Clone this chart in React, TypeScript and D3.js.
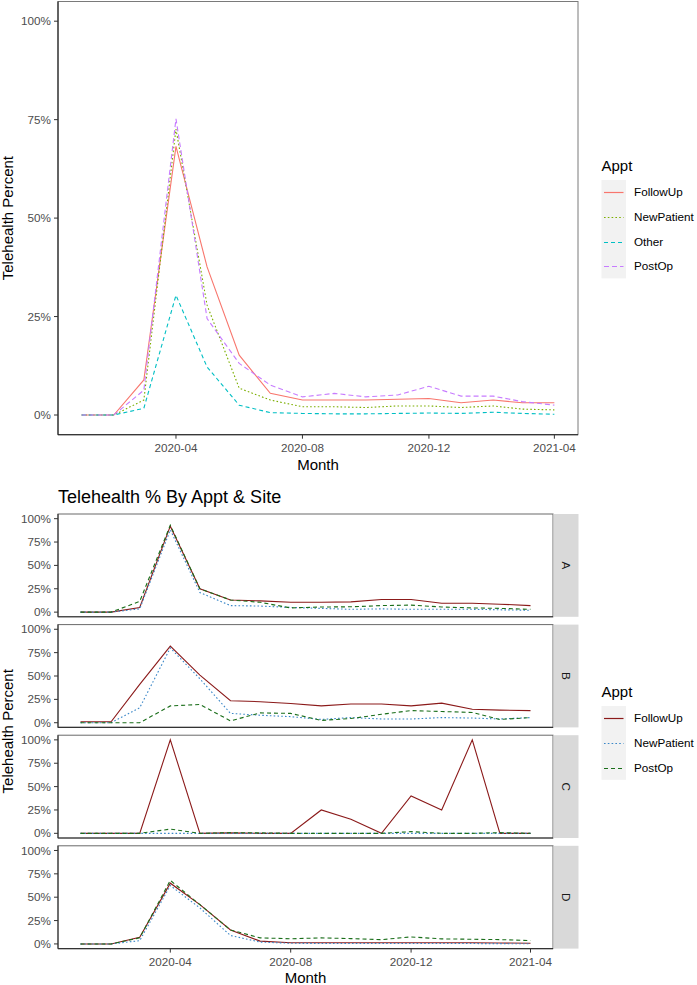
import React from "react";
import * as d3 from "d3";

// ---------- DATA ----------
const months = [
  "2020-01", "2020-02", "2020-03", "2020-04", "2020-05", "2020-06", "2020-07", "2020-08",
  "2020-09", "2020-10", "2020-11", "2020-12", "2021-01", "2021-02", "2021-03", "2021-04",
];
const xTickLabels = ["2020-04", "2020-08", "2020-12", "2021-04"];
const yTickValues = [0, 0.25, 0.5, 0.75, 1];

// Top chart (percent values)
const topSeriesNames = ["FollowUp", "NewPatient", "Other", "PostOp"];
const topFollowUp = [0, 0, 8.9, 68.2, 37.6, 15.2, 5.5, 3.8, 3.8, 3.8, 4.0, 4.2, 3.1, 3.8, 3.1, 3.1];
const topNewPatient = [0, 0, 3.8, 72.6, 27.9, 6.8, 3.8, 2.1, 2.1, 1.9, 2.3, 2.3, 1.9, 2.3, 1.5, 1.3];
const topOther = [0, 0, 1.7, 30.4, 12.2, 2.5, 0.6, 0.4, 0.3, 0.3, 0.4, 0.5, 0.4, 0.7, 0.4, 0.2];
const topPostOp = [0, 0, 6.3, 75.2, 24.5, 13.1, 7.6, 4.6, 5.5, 4.6, 5.1, 7.3, 4.8, 4.8, 3.4, 2.5];

// Faceted chart (percent values)
const facetSites = ["A", "B", "C", "D"];
const facetSeriesNames = ["FollowUp", "NewPatient", "PostOp"];
const siteAFollowUp = [0, 0, 5, 92, 25, 13, 12, 10.5, 10.5, 11, 13.5, 13.5, 9.5, 9.5, 8.5, 7];
const siteANewPatient = [0, 0, 3.5, 88, 21, 7, 6.5, 5, 4, 3, 3.5, 3, 3, 3, 2.5, 2];
const siteAPostOp = [0, 0, 11.5, 93, 25, 13, 10.5, 4.5, 5.5, 5.7, 7, 7.5, 5.5, 4.5, 4, 3];
const siteBFollowUp = [1, 1, 41, 82, 51, 23.5, 22.5, 20.5, 18, 20, 20, 18, 21, 14.5, 13.5, 13];
const siteBNewPatient = [0, 0, 16, 80, 47, 10, 8, 6.5, 3.5, 5.5, 4, 4, 5.5, 5, 4, 5.5];
const siteBPostOp = [0, 0, 0, 18, 19.5, 2, 10.5, 10, 2.5, 4.5, 9, 13, 12, 11, 3.5, 5.5];
const siteCFollowUp = [0, 0, 0, 100, 0, 0.5, 0, 0, 25, 15, 0, 40, 25, 100, 0, 0];
const siteCNewPatient = [0, 0, 0, 0, 0, 0, 0, 0, 0, 0, 0, 0, 0, 0, 0, 0];
const siteCPostOp = [0, 0, 0, 4.5, 0, 0.7, 0.5, 0, 0, 0, 0, 1.8, 0, 0, 0.7, 0];
const siteDFollowUp = [0, 0, 7, 65, 42, 15, 3, 1.2, 1.2, 1.2, 1.2, 1.2, 1.2, 1.2, 1, 0.7];
const siteDNewPatient = [0, 0, 3.5, 62.5, 38.5, 9, 2, 0.7, 0.5, 0.5, 0.5, 0.5, 0.5, 0.4, 0.3, 0.2];
const siteDPostOp = [0, 0, 6.5, 68, 42, 15, 6.5, 5.5, 6.5, 5.7, 4.6, 7.5, 5.4, 5, 4.6, 3.6];

// ---------- STYLE ----------
const FONT = "'Liberation Sans', Arial, Helvetica, sans-serif";
const topStyles: Record<string, { color: string; dash: string }> = {
  FollowUp: { color: "#F8766D", dash: "none" },
  NewPatient: { color: "#7CAE00", dash: "1.6 2.2" },
  Other: { color: "#00BFC4", dash: "4 3" },
  PostOp: { color: "#C77CFF", dash: "5 3" },
};
const facetStyles: Record<string, { color: string; dash: string }> = {
  FollowUp: { color: "#8B1A1A", dash: "none" },
  NewPatient: { color: "#3A87C8", dash: "1.6 2.2" },
  PostOp: { color: "#1A6E1A", dash: "4 3" },
};

const parse = d3.timeParse("%Y-%m");
const dates = months.map((m) => parse(m) as Date);
const tickDates = xTickLabels.map((m) => parse(m) as Date);
const fmtPct = (v: number) => `${Math.round(v * 100)}%`;

function expandedTime(r0: number, r1: number) {
  const d0 = dates[0].getTime();
  const d1 = dates[dates.length - 1].getTime();
  const pad = (d1 - d0) * 0.05;
  return d3.scaleTime().domain([new Date(d0 - pad), new Date(d1 + pad)]).range([r0, r1]);
}

function Legend({ x, y, names, styles }: { x: number; y: number; names: string[]; styles: Record<string, { color: string; dash: string }> }) {
  const keyH = 24.6;
  const keyW = 24.5;
  return (
    <g transform={`translate(${x},${y})`}>
      <text x={0} y={-9} fontSize={15} fill="#000" fontFamily={FONT}>Appt</text>
      <rect x={0} y={0} width={keyW} height={keyH * names.length} fill="#F2F2F2" />
      {names.map((n, i) => {
        const cy = keyH * (i + 0.5);
        const ly = Math.round(cy) + 0.5;
        return (
          <g key={n}>
            <line x1={2.5} x2={keyW - 2.5} y1={ly} y2={ly} stroke={styles[n].color} strokeWidth={1.2}
              strokeDasharray={styles[n].dash === "none" ? undefined : styles[n].dash} />
            <text x={keyW + 8} y={cy} dy="0.35em" fontSize={11.7} fill="#000" fontFamily={FONT}>{n}</text>
          </g>
        );
      })}
    </g>
  );
}

function TopChart() {
  const left = 58, right = 578, top = 1.5, bottom = 434.7;
  const x = expandedTime(left, right);
  const y = d3.scaleLinear().domain([-0.05, 1.05]).range([bottom, top]);
  const series: Record<string, number[]> = {
    FollowUp: topFollowUp, NewPatient: topNewPatient, Other: topOther, PostOp: topPostOp,
  };
  const line = d3.line<number>().x((_, i) => x(dates[i])).y((v) => y(v / 100));
  return (
    <g>
      <rect x={left} y={top} width={right - left} height={bottom - top} fill="#fff" stroke="#7a7a7a" strokeWidth={1} />
      {topSeriesNames.map((n) => (
        <path key={n} d={line(series[n]) || ""} fill="none" stroke={topStyles[n].color} strokeWidth={1.1}
          strokeDasharray={topStyles[n].dash === "none" ? undefined : topStyles[n].dash} />
      ))}
      <line x1={left} x2={left} y1={top} y2={bottom} stroke="#1a1a1a" strokeWidth={1.1} />
      <line x1={left} x2={right} y1={bottom} y2={bottom} stroke="#1a1a1a" strokeWidth={1.1} />
      {yTickValues.map((v) => (
        <g key={v}>
          <line x1={left - 4} x2={left} y1={y(v)} y2={y(v)} stroke="#333" />
          <text x={left - 7} y={y(v)} dy="0.35em" textAnchor="end" fontSize={11.7} fill="#4D4D4D" fontFamily={FONT}>{fmtPct(v)}</text>
        </g>
      ))}
      {tickDates.map((d, i) => (
        <g key={i}>
          <line x1={x(d)} x2={x(d)} y1={bottom} y2={bottom + 4} stroke="#333" />
          <text x={x(d)} y={bottom + 17} textAnchor="middle" fontSize={11.7} fill="#4D4D4D" fontFamily={FONT}>{xTickLabels[i]}</text>
        </g>
      ))}
      <text x={(left + right) / 2} y={470} textAnchor="middle" fontSize={15} fill="#000" fontFamily={FONT}>Month</text>
      <text transform={`translate(13,${(y(0) + y(1)) / 2}) rotate(-90)`} textAnchor="middle" fontSize={15} fill="#000" fontFamily={FONT}>Telehealth Percent</text>
      <Legend x={601.5} y={180} names={topSeriesNames} styles={topStyles} />
    </g>
  );
}

function FacetChart() {
  const left = 58, right = 553, stripW = 25;
  const firstTop = 514, panelH = 102.8, step = 110.6;
  const x = expandedTime(left, right);
  const siteData: Record<string, Record<string, number[]>> = {
    A: { FollowUp: siteAFollowUp, NewPatient: siteANewPatient, PostOp: siteAPostOp },
    B: { FollowUp: siteBFollowUp, NewPatient: siteBNewPatient, PostOp: siteBPostOp },
    C: { FollowUp: siteCFollowUp, NewPatient: siteCNewPatient, PostOp: siteCPostOp },
    D: { FollowUp: siteDFollowUp, NewPatient: siteDNewPatient, PostOp: siteDPostOp },
  };
  const lastBottom = firstTop + step * (facetSites.length - 1) + panelH;
  const drawOrder = ["FollowUp", "NewPatient", "PostOp"];
  return (
    <g>
      <text x={58} y={503} fontSize={18} fill="#000" fontFamily={FONT}>Telehealth % By Appt &amp; Site</text>
      {facetSites.map((s, si) => {
        const top = firstTop + step * si;
        const bottom = top + panelH;
        const y = d3.scaleLinear().domain([-0.05, 1.05]).range([bottom, top]);
        const line = d3.line<number>().x((_, i) => x(dates[i])).y((v) => y(v / 100));
        return (
          <g key={s}>
            <rect x={left} y={top} width={right - left} height={panelH} fill="#fff" stroke="#6a6a6a" strokeWidth={1} />
            {drawOrder.map((n) => (
              <path key={n} d={line(siteData[s][n]) || ""} fill="none" stroke={facetStyles[n].color} strokeWidth={1.1}
                strokeDasharray={facetStyles[n].dash === "none" ? undefined : facetStyles[n].dash} />
            ))}
            <line x1={left} x2={left} y1={top} y2={bottom} stroke="#333" strokeWidth={1.1} />
            <line x1={left} x2={right} y1={bottom} y2={bottom} stroke="#333" strokeWidth={1.1} />
            {yTickValues.map((v) => (
              <g key={v}>
                <line x1={left - 4} x2={left} y1={y(v)} y2={y(v)} stroke="#333" />
                <text x={left - 7} y={y(v)} dy="0.35em" textAnchor="end" fontSize={11.7} fill="#4D4D4D" fontFamily={FONT}>{fmtPct(v)}</text>
              </g>
            ))}
            <rect x={right + 0.5} y={top} width={stripW} height={panelH} fill="#D9D9D9" />
            <text transform={`translate(${right + 0.5 + stripW / 2},${top + panelH / 2}) rotate(90)`} textAnchor="middle" dy="0.35em" fontSize={11.7} fill="#1A1A1A" fontFamily={FONT}>{s}</text>
          </g>
        );
      })}
      {tickDates.map((d, i) => (
        <g key={i}>
          <line x1={x(d)} x2={x(d)} y1={lastBottom} y2={lastBottom + 4} stroke="#333" />
          <text x={x(d)} y={lastBottom + 17} textAnchor="middle" fontSize={11.7} fill="#4D4D4D" fontFamily={FONT}>{xTickLabels[i]}</text>
        </g>
      ))}
      <text x={(left + right) / 2} y={983} textAnchor="middle" fontSize={15} fill="#000" fontFamily={FONT}>Month</text>
      <text transform={`translate(13,${(firstTop + lastBottom) / 2}) rotate(-90)`} textAnchor="middle" fontSize={15} fill="#000" fontFamily={FONT}>Telehealth Percent</text>
      <Legend x={601.5} y={706} names={facetSeriesNames} styles={facetStyles} />
    </g>
  );
}

export default function App() {
  return (
    <svg width={697} height={985} style={{ position: "absolute", left: 0, top: 0, background: "#fff" }}>
      <rect x={0} y={0} width={697} height={985} fill="#fff" />
      <TopChart />
      <FacetChart />
    </svg>
  );
}
